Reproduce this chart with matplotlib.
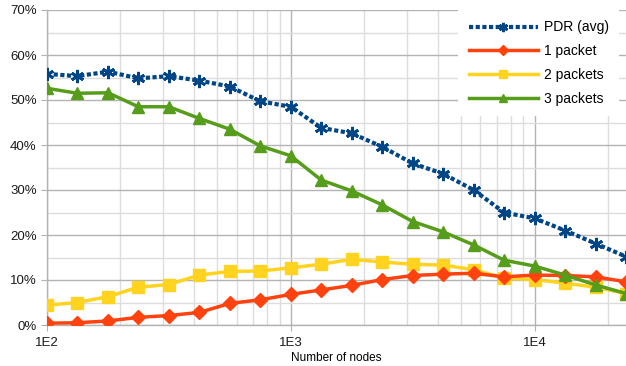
import numpy as np
import matplotlib
matplotlib.use("Agg")
import matplotlib.pyplot as plt
from matplotlib.ticker import FixedLocator, FuncFormatter, MultipleLocator, NullFormatter

plt.rcParams['font.family'] = ['Liberation Sans', 'DejaVu Sans']

# number of nodes (log spaced, 8 points per decade)
nodes = [100, 133, 178, 237, 316, 422, 562, 750, 1000, 1334, 1778, 2371,
         3162, 4217, 5623, 7499, 10000, 13335, 17783, 23714]

pdr_avg = [55.8, 55.3, 56.3, 54.8, 55.3, 54.3, 53.0, 49.7, 48.5, 43.8,
           42.6, 39.6, 35.9, 33.6, 30.0, 25.0, 23.7, 21.0, 18.1, 15.2]
one_packet = [0.4, 0.5, 0.9, 1.7, 2.1, 2.8, 4.8, 5.6, 6.8, 7.8,
              8.8, 10.1, 11.0, 11.3, 11.5, 10.7, 11.1, 11.0, 10.7, 9.6]
two_packets = [4.4, 5.0, 6.3, 8.4, 9.0, 11.1, 11.9, 12.0, 12.7, 13.5,
               14.6, 14.0, 13.5, 13.3, 12.3, 10.4, 10.1, 9.3, 8.4, 7.0]
three_packets = [52.6, 51.5, 51.6, 48.5, 48.5, 45.9, 43.5, 39.8, 37.6, 32.2,
                 29.8, 26.7, 23.0, 20.7, 17.8, 14.4, 13.1, 11.1, 8.9, 7.0]

fig = plt.figure(figsize=(6.26, 3.66), dpi=100)
ax = fig.add_axes([47/626, 1 - 325/366, 1 - 47/626, 315/366])

ax.plot(nodes, pdr_avg, color='#004586', linestyle=(0, (1, 0.6)), linewidth=3,
        marker=(6, 2, 0), markersize=9.5, mew=2, label='PDR (avg)', zorder=5)
ax.plot(nodes, one_packet, color='#ff420e', linewidth=2.5,
        marker='D', markersize=7, label='1 packet', zorder=4)
ax.plot(nodes, two_packets, color='#ffd320', linewidth=2.5,
        marker='s', markersize=8, label='2 packets', zorder=3)
ax.plot(nodes, three_packets, color='#579d1c', linewidth=2.5,
        marker='^', markersize=9, label='3 packets', zorder=4)

ax.set_xscale('log')
ax.set_xlim(100, nodes[-1])
ax.set_ylim(0, 70)

ax.xaxis.set_major_locator(FixedLocator([100, 1000, 10000]))
ax.xaxis.set_major_formatter(FuncFormatter(lambda v, p: '1E%d' % round(np.log10(v))))
ax.xaxis.set_minor_formatter(NullFormatter())
ax.yaxis.set_major_locator(MultipleLocator(10))
ax.yaxis.set_minor_locator(MultipleLocator(5))
ax.yaxis.set_major_formatter(FuncFormatter(lambda v, p: '%d%%' % v))

ax.grid(which='major', color='#b3b3b3', linewidth=1)
ax.grid(which='minor', color='#dddddd', linewidth=1)
ax.set_axisbelow(True)

for s in ['top', 'right']:
    ax.spines[s].set_visible(False)
for s in ['left', 'bottom']:
    ax.spines[s].set_color('#b3b3b3')
    ax.spines[s].set_linewidth(1)

ax.tick_params(which='major', length=4, color='#b3b3b3', labelsize=9.5, labelcolor='#1a1a1a')
ax.tick_params(which='minor', length=0)
ax.tick_params(axis='x', pad=5)

ax.set_xlabel('Number of nodes', fontsize=8.5, labelpad=2)

leg = ax.legend(loc='upper right', bbox_to_anchor=(1.0, 1.022), fontsize=10,
                frameon=True, fancybox=False, framealpha=1, edgecolor='none',
                facecolor='white', handlelength=5.0, handletextpad=0.4,
                labelspacing=0.7, borderpad=0.75, markerscale=0.7)
leg.set_zorder(10)

fig.savefig('out.png', dpi=100)
